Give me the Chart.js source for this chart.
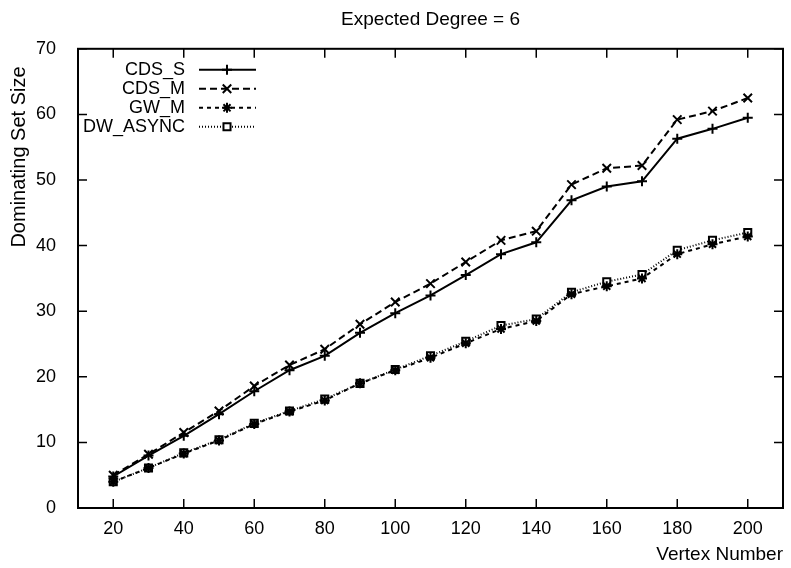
<!DOCTYPE html>
<html>
<head>
<meta charset="utf-8">
<script src="https://cdn.jsdelivr.net/npm/chart.js@4/dist/chart.umd.min.js"></script>
<style>
  html, body { margin: 0; padding: 0; background: #fff; }
  #wrap { width: 791px; height: 568px; }
</style>
</head>
<body>
<div id="wrap"><canvas id="c" width="791" height="568"></canvas></div>
<script>
// Expected Degree = 6: dominating set size vs vertex count
var VERTICES = [20, 30, 40, 50, 60, 70, 80, 90, 100, 110, 120, 130, 140, 150, 160, 170, 180, 190, 200];
var CDS_S    = [4.8, 8.0, 11.0, 14.3, 17.8, 21.0, 23.2, 26.7, 29.7, 32.4, 35.5, 38.7, 40.5, 46.9, 49.0, 49.8, 56.3, 57.8, 59.5];
var CDS_M    = [5.0, 8.2, 11.5, 14.8, 18.6, 21.8, 24.2, 28.0, 31.4, 34.2, 37.5, 40.8, 42.2, 49.3, 51.8, 52.2, 59.2, 60.5, 62.5];
var GW_M     = [4.0, 6.1, 8.3, 10.3, 12.8, 14.7, 16.4, 19.0, 21.0, 22.9, 25.1, 27.3, 28.5, 32.6, 33.8, 35.0, 38.7, 40.2, 41.4];
var DW_ASYNC = [4.0, 6.1, 8.4, 10.4, 12.9, 14.8, 16.6, 19.0, 21.1, 23.2, 25.4, 27.8, 28.8, 32.9, 34.5, 35.6, 39.3, 40.8, 42.0];
var X_TICKS = [20, 40, 60, 80, 100, 120, 140, 160, 180, 200];
var Y_TICKS = [0, 10, 20, 30, 40, 50, 60, 70];

var FONT = '"Liberation Sans", Arial, Helvetica, sans-serif';

var SERIES = [
  { label: 'CDS_S',    data: CDS_S,    dash: [],     point: 'cross',    radius: 5 },
  { label: 'CDS_M',    data: CDS_M,    dash: [7, 4], point: 'crossRot', radius: 6 },
  { label: 'GW_M',     data: GW_M,     dash: [4, 4], point: 'star',     radius: 5 },
  { label: 'DW_ASYNC', data: DW_ASYNC, dash: [1, 2], point: 'rect',     radius: 5 }
];

function pts(arr) {
  return VERTICES.map(function(v, i) { return { x: v, y: arr[i] }; });
}

// gnuplot-like frame with inward ticks, the y label and the legend
var framePlugin = {
  id: 'frame',
  afterDraw: function(chart) {
    var ctx = chart.ctx, a = chart.chartArea;
    var xs = chart.scales.x, ys = chart.scales.y;
    ctx.save();
    ctx.strokeStyle = '#000';
    ctx.lineWidth = 2;
    ctx.strokeRect(a.left, a.top, a.right - a.left, a.bottom - a.top);
    ctx.lineWidth = 1.5;
    ctx.beginPath();
    X_TICKS.forEach(function(v) {
      var px = xs.getPixelForValue(v);
      ctx.moveTo(px, a.bottom); ctx.lineTo(px, a.bottom - 9);
      ctx.moveTo(px, a.top); ctx.lineTo(px, a.top + 9);
    });
    Y_TICKS.forEach(function(v) {
      var py = ys.getPixelForValue(v);
      ctx.moveTo(a.left, py); ctx.lineTo(a.left + 9, py);
      ctx.moveTo(a.right, py); ctx.lineTo(a.right - 9, py);
    });
    ctx.stroke();

    // y axis label (sits higher than the axis centre in the original)
    ctx.save();
    ctx.translate(19, 157);
    ctx.rotate(-Math.PI / 2);
    ctx.font = '20px ' + FONT;
    ctx.fillStyle = '#000';
    ctx.textAlign = 'center';
    ctx.textBaseline = 'middle';
    ctx.fillText('Dominating Set Size', 0, 0);
    ctx.restore();

    // legend
    ctx.font = '18px ' + FONT;
    ctx.textAlign = 'right';
    ctx.textBaseline = 'middle';
    chart.data.datasets.forEach(function(ds, i) {
      var y = a.top + 21 + i * 19;
      ctx.fillStyle = '#000';
      ctx.fillText(ds.label, a.left + 107, y);
      ctx.setLineDash(ds.borderDash || []);
      ctx.lineWidth = ds.borderWidth;
      ctx.beginPath();
      ctx.moveTo(a.left + 121, y); ctx.lineTo(a.left + 178, y);
      ctx.stroke();
      ctx.setLineDash([]);
      ctx.fillStyle = ds.pointBackgroundColor;
      ctx.lineWidth = ds.pointBorderWidth;
      Chart.helpers.drawPoint(ctx, {
        pointStyle: ds.pointStyle, radius: ds.pointRadius, rotation: 0,
        borderWidth: ds.pointBorderWidth
      }, a.left + 149, y);
    });
    ctx.restore();
  }
};

var datasets = SERIES.map(function(s) {
  return {
    label: s.label,
    data: pts(s.data),
    borderColor: '#000',
    backgroundColor: '#000',
    borderWidth: 2,
    borderDash: s.dash,
    pointStyle: s.point,
    pointRadius: s.radius,
    pointBorderColor: '#000',
    pointBackgroundColor: s.point === 'rect' ? '#fff' : '#000',
    pointBorderWidth: 2,
    tension: 0,
    fill: false
  };
});

new Chart(document.getElementById('c'), {
  type: 'line',
  data: { datasets: datasets },
  plugins: [framePlugin],
  options: {
    responsive: false,
    animation: false,
    layout: { padding: { left: 0, right: 4, top: 0, bottom: 0 } },
    plugins: {
      legend: { display: false },
      tooltip: { enabled: false },
      title: {
        display: true,
        fullSize: false,
        text: 'Expected Degree = 6',
        color: '#000',
        font: { family: FONT, size: 19, weight: 'normal' },
        padding: { top: 8, bottom: 18 }
      }
    },
    scales: {
      x: {
        type: 'linear',
        min: 10,
        max: 210,
        afterBuildTicks: function(scale) {
          scale.ticks = X_TICKS.map(function(v) { return { value: v }; });
        },
        afterFit: function(scale) { scale.height = 60; },
        grid: { display: false },
        border: { display: false },
        ticks: {
          color: '#000',
          font: { family: FONT, size: 18 },
          padding: 2,
          maxRotation: 0,
          autoSkip: false
        },
        title: {
          display: true,
          text: 'Vertex Number',
          align: 'end',
          color: '#000',
          font: { family: FONT, size: 19 },
          padding: { top: 2, bottom: 2 }
        }
      },
      y: {
        min: 0,
        max: 70,
        afterBuildTicks: function(scale) {
          scale.ticks = Y_TICKS.map(function(v) { return { value: v }; });
        },
        afterFit: function(scale) { scale.width = 78; },
        grid: { display: false },
        border: { display: false },
        ticks: {
          color: '#000',
          font: { family: FONT, size: 18 },
          padding: 14
        }
      }
    }
  }
});
</script>
</body>
</html>
